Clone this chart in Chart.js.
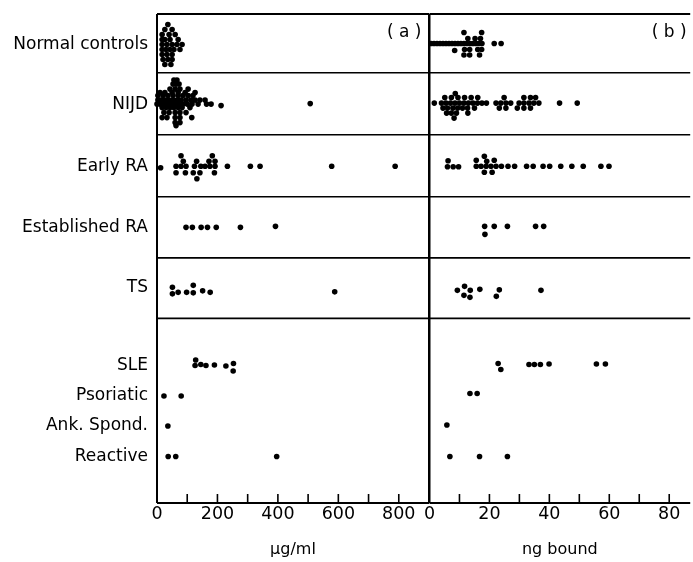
<!DOCTYPE html>
<html>
<head>
<meta charset="utf-8">
<script src="https://cdn.jsdelivr.net/npm/chart.js@4"></script>
<style>
    body { margin: 0; background: #fff; }
    #wrap { position: relative; width: 693px; height: 562px; overflow: hidden; }
    canvas { position: absolute; top: 0; }
</style>
</head>
<body>
<div id="wrap">
    <canvas id="left" width="432" height="562" style="left:0"></canvas>
    <canvas id="right" width="283" height="562" style="left:410px"></canvas>
</div>
<script>
// Groups and where their label / dot baseline sits (rows from the top, 8 units tall)
const groups = ['Normal controls', 'NIJD', 'Early RA', 'Established RA', 'TS', 'SLE', 'Psoriatic', 'Ank. Spond.', 'Reactive'];
const groupRowPos = [0.5, 1.49, 2.49, 3.49, 4.48, 5.75, 6.25, 6.74, 7.24];
const rowDividers = [0.96, 1.975, 2.99, 3.99, 4.98];

// Each point: [value, lane] - lane is the stacking offset read off the beeswarm
// (a) ug/ml
const ncUg = [[36,-4],[26,-3],[50,-3],[17,-2],[40,-2],[60,-2],[17,-1],[26,-1],[43,-1],[70,-1],
    [17,0],[33,0],[50,0],[66,0],[83,0],[17,1],[30,1],[43,1],[56,1],[76,1],
    [17,2],[33,2],[50,2],[20,3],[36,3],[50,3],[26,4],[46,4]];
const nijdUg = [[56,-5],[66,-5],[53,-4.2],[63,-4.2],[73,-4.2],[43,-3.2],[60,-3.2],[76,-3.2],[103,-3.2],
    [10,-2.5],[26,-2.5],[50,-2.5],[70,-2.5],[93,-2.5],[126,-2.5],
    [3,-1.9],[20,-1.9],[36,-1.9],[53,-1.9],[70,-1.9],[86,-1.9],[103,-1.9],[119,-1.9],
    [3,-1],[13,-1],[26,-1],[40,-1],[53,-1],[66,-1],[80,-1],[96,-1],[112,-1],[126,-1],[142,-1],[159,-1],
    [0,-0.2],[10,-0.2],[23,-0.2],[33,-0.2],[46,-0.2],[60,-0.2],[73,-0.2],[86,-0.2],[100,-0.2],[116,-0.2],[136,-0.2],[164,-0.2],[179,-0.2],
    [212,0.1],[507,-0.3],
    [17,0.5],[30,0.5],[43,0.5],[56,0.5],[70,0.5],[83,0.5],[109,0.5],
    [23,1.5],[40,1.5],[60,1.5],[76,1.5],[96,1.5],
    [17,2.5],[33,2.5],[60,2.5],[76,2.5],[115,2.5],[60,3.5],[76,3.5],[63,4.1]];
const earlyUg = [[79.5,-2.1],[183,-2.1],[87,-1],[131,-1],[172,-1],[192,-1],
    [63,0],[79.5,0],[96,0],[124,0],[145,0],[159,0],[175,0],[192,0],[233,0],[309,0],[341,0],[578,0],[788,0],
    [12,0.3],[63,1.3],[94,1.3],[120,1.3],[142,1.3],[190,1.3],[132,2.5]];
const estUg = [[96,0],[117,0],[146,0],[167,0],[196,0],[276,0],[392,-0.2]];
const tsUg = [[51,-0.1],[51,1.2],[70,0.9],[98,0.9],[120,-0.5],[120,1],[151,0.6],[176,0.9],[588,0.8]];
const sleUg = [[128,-1.1],[126,0],[145,-0.2],[162,0],[190,-0.1],[228,0.1],[253,-0.4],[252,1.1]];
const psoUg = [[23,0],[80,0]];
const ankUg = [[36,0]];
const reaUg = [[37,0],[62,0],[396,0]];

// (b) ng bound
const ncNg = [[0.5,-0.2],[1.5,-0.2],[2.5,-0.2],[3.5,-0.2],[4.5,-0.2],[5.5,-0.2],[6.5,-0.2],[7.5,-0.2],[8.5,-0.2],
    [9.5,-0.2],[10.5,-0.2],[11.5,-0.2],[12.5,-0.2],[13.5,-0.2],[14.5,-0.2],[15.5,-0.2],[16.5,-0.2],[17.5,-0.2],
    [21.6,-0.2],[23.9,-0.2],[11.5,-2.4],[17.4,-2.4],[12.8,-1.2],[15.2,-1.2],[17,-1.2],
    [11.7,1],[13.4,1],[16.1,1],[17.4,1],[8.4,1.2],[11.5,2.1],[13.4,2.1],[16.7,2.1]];
const nijdNg = [[1.6,-0.4],[4,-0.4],[5.5,-0.4],[7,-0.4],[8.5,-0.4],[10,-0.4],[11.5,-0.4],[13,-0.4],[14.5,-0.4],[16,-0.4],[17.5,-0.4],[19,-0.4],
    [22.2,-0.4],[23.8,-0.4],[25.5,-0.4],[27.1,-0.4],[29.9,-0.4],[31.5,-0.4],[33.2,-0.4],[34.8,-0.4],[36.5,-0.4],[43.4,-0.4],[49.3,-0.4],
    [5.1,-1.5],[7.3,-1.5],[9.5,-1.5],[11.7,-1.5],[13.9,-1.5],[16.1,-1.5],[24.9,-1.5],[31.5,-1.5],[33.7,-1.5],[35.4,-1.5],
    [8.6,-2.3],
    [4.5,0.6],[6,0.6],[7.8,0.6],[9.4,0.6],[11,0.6],[12.7,0.6],[15,0.6],[23.3,0.6],[25.5,0.6],[29.3,0.6],[31.5,0.6],[33.7,0.6],
    [5.7,1.6],[7.3,1.6],[9,1.6],[12.8,1.6],[8.2,2.6]];
const earlyNg = [[6.2,-1.1],[6,0.1],[7.9,0.1],[9.7,0.1],[15.6,-1.2],[18.3,-2],[19.1,-1],[21.6,-1.2],
    [15.6,0],[17.2,0],[18.9,0],[20.5,0],[22.2,0],[24,0],[26.2,0],[28.4,0],[32.4,0],[34.6,0],[37.9,0],[40.1,0],
    [43.8,0],[47.5,0],[51.3,0],[57.2,0],[59.9,0],[18.3,1.2],[20.9,1.2]];
const estNg = [[18.4,-0.2],[21.6,-0.2],[26,-0.2],[35.4,-0.2],[38.1,-0.2],[18.5,1.4]];
const tsNg = [[9.3,0.5],[11.7,-0.3],[11.5,1.5],[13.6,0.5],[13.5,1.9],[16.8,0.3],[23.3,0.4],[22.3,1.7],[37.2,0.5]];
const sleNg = [[22.9,-0.4],[23.8,0.8],[33.2,-0.2],[35,-0.2],[37,-0.2],[39.9,-0.3],[55.7,-0.3],[58.7,-0.3]];
const psoNg = [[13.5,-0.5],[15.9,-0.5]];
const ankNg = [[5.8,-0.2]];
const reaNg = [[6.8,0],[16.7,0],[26,0]];

const ugData = [ncUg, nijdUg, earlyUg, estUg, tsUg, sleUg, psoUg, ankUg, reaUg];
const ngData = [ncNg, nijdNg, earlyNg, estNg, tsNg, sleNg, psoNg, ankNg, reaNg];

const laneStep = 0.0818;
const FONT = 'DejaVu Sans';

Chart.defaults.color = '#000';
Chart.defaults.font.family = FONT;

function toDatasets(sets) {
    return sets.map((pairs, row) => ({
        label: groups[row],
        data: pairs.map(([x, lane]) => ({ x: x, y: groupRowPos[row] + lane * laneStep })),
        pointRadius: 2.8,
        pointHoverRadius: 2.8,
        pointBorderWidth: 0,
        backgroundColor: '#000',
        clip: false
    }));
}

// frame, row dividers, inward ticks and the panel letter
const framePlugin = {
    id: 'frame',
    afterDraw(chart, args, opts) {
        const { ctx, chartArea: a, scales: { x, y } } = chart;
        ctx.save();
        ctx.strokeStyle = '#000';
        ctx.lineWidth = 2;
        ctx.beginPath();
        ctx.moveTo(a.left, a.top); ctx.lineTo(a.right, a.top);
        ctx.moveTo(a.left, a.bottom); ctx.lineTo(a.right, a.bottom);
        ctx.moveTo(a.left, a.top); ctx.lineTo(a.left, a.bottom);
        if (opts.rightBorder) { ctx.moveTo(a.right, a.top); ctx.lineTo(a.right, a.bottom); }
        ctx.stroke();

        ctx.lineWidth = 1.6;
        ctx.beginPath();
        rowDividers.forEach(v => {
            const py = y.getPixelForValue(v);
            ctx.moveTo(a.left, py); ctx.lineTo(a.right, py);
        });
        x.ticks.forEach(t => {
            if (t.value > x.min && t.value < x.max && t.value % opts.tickStep === 0) {
                const px = x.getPixelForValue(t.value);
                ctx.moveTo(px, a.bottom); ctx.lineTo(px, a.bottom - 9);
            }
        });
        ctx.stroke();

        ctx.font = '17px "' + FONT + '"';
        ctx.fillStyle = '#000';
        ctx.textAlign = 'center';
        ctx.textBaseline = 'middle';
        ctx.fillText(opts.letter, x.getPixelForValue(opts.letterX), y.getPixelForValue(0.3));
        ctx.restore();
    }
};

function makeChart(id, sets, cfg) {
    return new Chart(document.getElementById(id), {
        type: 'scatter',
        data: { datasets: toDatasets(sets) },
        options: {
            responsive: false,
            animation: false,
            events: [],
            layout: { padding: { top: 14, right: cfg.padRight, left: 0, bottom: 0 } },
            plugins: {
                legend: { display: false },
                tooltip: { enabled: false },
                frame: cfg.frame
            },
            scales: {
                x: {
                    type: 'linear',
                    min: 0,
                    max: cfg.max,
                    grid: { display: false, drawTicks: false },
                    border: { display: false },
                    ticks: {
                        stepSize: cfg.step,
                        includeBounds: false,
                        autoSkip: false,
                        maxRotation: 0,
                        padding: 1,
                        font: { size: 17.5 },
                        callback: v => (v % cfg.labelStep === 0 ? String(v) : '')
                    },
                    title: {
                        display: true,
                        text: cfg.title,
                        font: { size: 16 },
                        padding: { top: 0, bottom: 3 }
                    },
                    afterFit: s => { s.height = 59; }
                },
                y: {
                    type: 'linear',
                    min: 0,
                    max: 8,
                    reverse: true,
                    grid: { display: false, drawTicks: false },
                    border: { display: false },
                    afterBuildTicks: s => { s.ticks = groupRowPos.map(v => ({ value: v })); },
                    ticks: {
                        display: cfg.showLabels,
                        autoSkip: false,
                        padding: 9,
                        font: { size: 17 },
                        callback: (v, i) => groups[i]
                    },
                    afterFit: s => {
                        s.width = cfg.yWidth;
                        s.paddingTop = 0;
                        s.paddingBottom = 0;
                    }
                }
            }
        },
        plugins: [framePlugin]
    });
}

makeChart('left', ugData, {
    max: 900, step: 100, labelStep: 200, title: 'µg/ml',
    showLabels: true, yWidth: 157, padRight: 3,
    frame: { letter: '( a )', letterX: 818, tickStep: 100, rightBorder: true }
});

makeChart('right', ngData, {
    max: 87, step: 10, labelStep: 20, title: 'ng bound',
    showLabels: false, yWidth: 19.5, padRight: 0,
    frame: { letter: '( b )', letterX: 80, tickStep: 10, rightBorder: false }
});
</script>
</body>
</html>
